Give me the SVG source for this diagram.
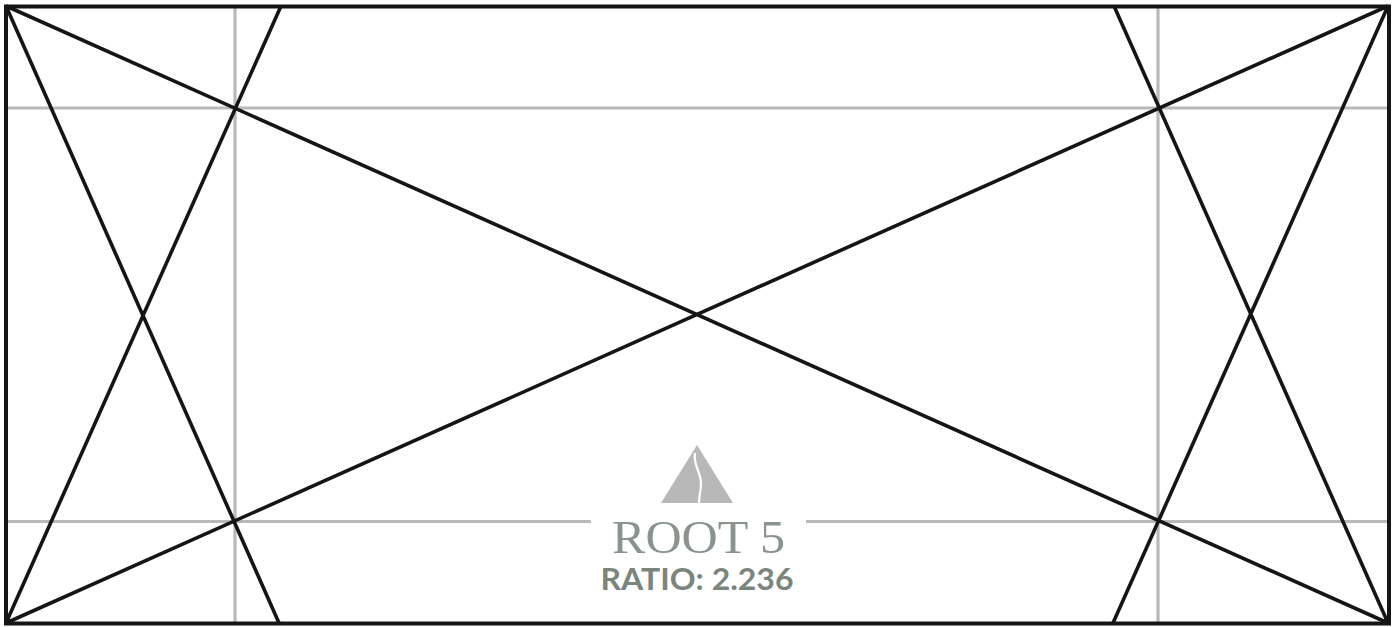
<svg xmlns="http://www.w3.org/2000/svg" width="1398" height="627" viewBox="0 0 1398 627">
<style>
.g{stroke:#b9b9b9;stroke-width:3.200;fill:none}
.k{stroke:#151515;stroke-width:3.600;fill:none}
.b{stroke:#151515;stroke-width:4;fill:none}
.t{text-anchor:middle}
</style>
<rect width="1398" height="627" fill="#fff"/>
<g id="guides">
<path class="g" d="M235 7V623M1158 7V623M6 108H1389M6 521.500H591M806 521.500H1389"/>
</g>
<g id="connectors">
<path class="k" d="M6 6L1388 623M1388 6L6 623M6 6L279 623M281 6L6 623M1114 6L1388 623M1388 6L1113 623"/>
<rect class="b" x="6" y="6.500" width="1383" height="617"/>
</g>
<g id="logo">
<path d="M697 445L733 503H661Z" fill="#b8b8b8"/>
<path d="M695 453C693 466 701 472 701 483C701 491 699 496 699 503" fill="none" stroke="#fff" stroke-width="2.200"/>
<text class="t" x="698.500" y="553" fill="#8a948d" font-family="'Liberation Serif',serif" font-size="46" textLength="173" lengthAdjust="spacingAndGlyphs">ROOT 5</text>
<text class="t" x="697" y="590" fill="#7a857d" font-family="Lato,'Liberation Sans',sans-serif" font-size="30" font-weight="700" textLength="193" lengthAdjust="spacingAndGlyphs">RATIO: 2.236</text>
</g>
</svg>
